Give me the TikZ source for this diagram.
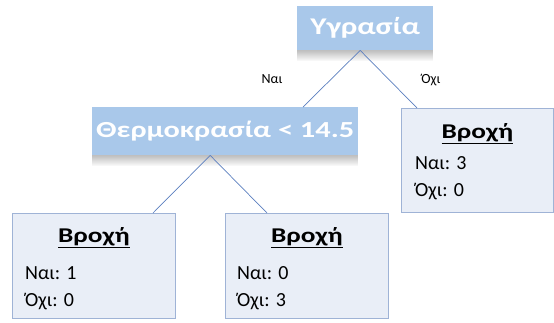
\documentclass[tikz,border=0pt]{standalone}
\usepackage{fontspec}
\setmainfont{Carlito}
\usetikzlibrary{fadings}
\definecolor{splitblue}{HTML}{A9C8EA}
\definecolor{leaffill}{HTML}{E9EEF7}
\definecolor{leafedge}{HTML}{9FB3D6}
\definecolor{edgeblue}{HTML}{5B7FBF}
\tikzfading[name=shadowfade, top color=transparent!0, bottom color=transparent!100]
\tikzset{
  splitbox/.style={rectangle, fill=splitblue, text=white, font=\bfseries, inner sep=0pt, anchor=north west},
  leafbox/.style={rectangle, draw=leafedge, line width=0.8pt, fill=leaffill, inner sep=0pt, anchor=north west},
  leafhead/.style={font=\fontsize{21}{23}\selectfont\bfseries, text=black, inner sep=0pt},
  leafline/.style={font=\fontsize{20}{22}\selectfont, text=black, inner sep=0pt, anchor=west},
  branch/.style={draw=edgeblue, line width=0.7pt},
  branchlabel/.style={font=\fontsize{14}{16}\selectfont, text=black, inner sep=0pt}
}
% wide bold lettering
\newcommand{\widebold}[1]{\scalebox{1.3}[1]{#1}}
% soft shade under a box, drawn below its lower edge
\newcommand{\dropshadow}[1]{%
  \fill[black!25, path fading=shadowfade] (#1.south west) rectangle ([yshift=-11]#1.south east);}
\begin{document}
\begin{tikzpicture}[x=1pt,y=-1pt]
\useasboundingbox (0,0) rectangle (554,322);
% decision nodes
\node[splitbox, minimum width=136pt, minimum height=44pt, font=\fontsize{24}{26}\selectfont\bfseries] (hum) at (297,6) {\widebold{Υγρασία}};
\node[splitbox, minimum width=266pt, minimum height=48pt, font=\fontsize{23}{25}\selectfont\bfseries] (temp) at (92,107) {\scalebox{1.32}[1]{Θερμοκρασία < 14.5}};
% leaf nodes
\node[leafbox, minimum width=152pt, minimum height=104pt] (leafR) at (401,108) {};
\node[leafbox, minimum width=163pt, minimum height=105pt] (leafL) at (12,213) {};
\node[leafbox, minimum width=163pt, minimum height=105pt] (leafM) at (225,213) {};
\dropshadow{hum}
\dropshadow{temp}
% branches
\coordinate (humB) at ([xshift=-5]hum.south);
\draw[branch] (humB) -- ([xshift=211]temp.north west);
\draw[branch] (humB) -- ([xshift=16]leafR.north west);
\coordinate (tempB) at ([xshift=-15]temp.south);
\draw[branch] (tempB) -- ([xshift=141]leafL.north west);
\draw[branch] (tempB) -- ([xshift=42]leafM.north west);
\node[branchlabel] (yes) at (272,79) {Ναι};
\node[branchlabel] (no) at (431,80) {Όχι};
% leaf contents
\node[leafhead] (hR) at ([yshift=-26]leafR.north) {\underline{\widebold{Βροχή}}};
\node[leafline] (yR) at ([xshift=14,yshift=-55]leafR.north west) {Ναι: 3};
\node[leafline] (nR) at ([xshift=14,yshift=-84]leafR.north west) {Όχι: 0};
\node[leafhead] (hL) at ([yshift=-25]leafL.north) {\underline{\widebold{Βροχή}}};
\node[leafline] (yL) at ([xshift=13,yshift=-60]leafL.north west) {Ναι: 1};
\node[leafline] (nL) at ([xshift=13,yshift=-89]leafL.north west) {Όχι: 0};
\node[leafhead] (hM) at ([yshift=-25]leafM.north) {\underline{\widebold{Βροχή}}};
\node[leafline] (yM) at ([xshift=12,yshift=-60]leafM.north west) {Ναι: 0};
\node[leafline] (nM) at ([xshift=12,yshift=-89]leafM.north west) {Όχι: 3};
\end{tikzpicture}
\end{document}
